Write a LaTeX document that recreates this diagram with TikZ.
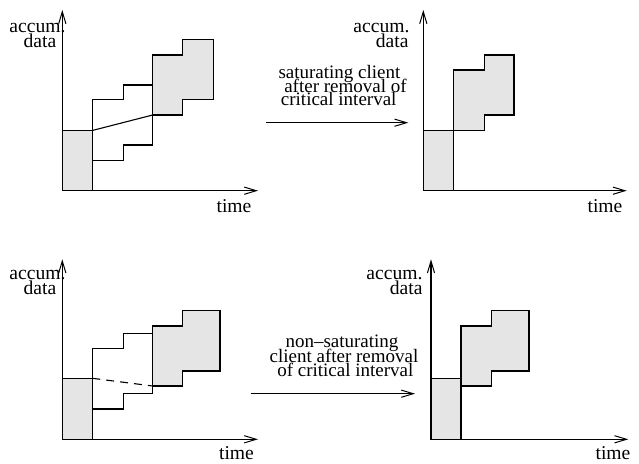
\documentclass[tikz,border=0pt]{standalone}
\usepackage{fontspec}
\setmainfont{Liberation Serif}
\usetikzlibrary{arrows.meta}
\begin{document}
\begin{tikzpicture}[x=0.5pt,y=-0.5pt,line width=0.55pt,
  axisarrow/.style={-{Straight Barb[length=6pt,width=3.6pt,line width=0.5pt]}},
  shaded/.style={draw,fill=gray!20},
  lbl/.style={inner sep=0pt,anchor=base,text height=0.55em,text depth=0pt,
    font=\fontsize{9.8}{9.8}\selectfont},
  note/.style={inner sep=0pt,anchor=base,text height=0.55em,text depth=0pt,
    font=\fontsize{9.5}{9.5}\selectfont}]
\useasboundingbox (0,0) rectangle (639,464);

% ---------- upper left: original schedule ----------
\coordinate (o1) at (62.3,190.7);
\coordinate (y1) at (62.3,10);
\coordinate (x1) at (258,190.7);
\filldraw[shaded] (62.3,130.5) rectangle (92.3,190.7);
\filldraw[shaded] (152.7,115) -- (152.7,55) -- (182.7,55) -- (182.7,39.3)
  -- (213.3,39.3) -- (213.3,99.3) -- (182.7,99.3) -- (182.7,115) -- cycle;
\draw (92.3,190.7) -- (92.3,99.3) -- (123.3,99.3) -- (123.3,85) -- (152.7,85);
\draw (92.3,160.3) -- (123.3,160.3) -- (123.3,145) -- (152.7,145) -- (152.7,115);
\draw (92.3,130.5) -- (152.7,115);
\draw[axisarrow] (o1) -- (y1);
\draw[axisarrow] (o1) -- (x1);
\node[lbl] (a1) at (37.5,32.8) {accum.};
\node[lbl] (d1) at (40,47.2) {data};
\node[lbl] (t1) at (234,213) {time};

% ---------- upper right: saturating client ----------
\coordinate (o2) at (423.3,190.7);
\coordinate (y2) at (423.3,10);
\coordinate (x2) at (626.7,190.7);
\filldraw[shaded] (423.3,130.5) rectangle (453.3,190.7);
\filldraw[shaded] (453.3,130.5) -- (453.3,70) -- (484.3,70) -- (484.3,55)
  -- (514,55) -- (514,115) -- (484.3,115) -- (484.3,130.5) -- cycle;
\draw[axisarrow] (o2) -- (y2);
\draw[axisarrow] (o2) -- (x2);
\node[lbl,anchor=base east] (a2) at (410,32.8) {accum.};
\node[lbl,anchor=base east] (d2) at (409,47.2) {data};
\node[lbl] (t2) at (605,213) {time};

% transition arrow (upper row)
\coordinate (s1) at (266,122.7);
\coordinate (e1) at (408.3,122.7);
\draw[axisarrow] (s1) -- (e1);
\node[note] (n1a) at (339.5,79) {saturating client};
\node[note] (n1b) at (345.5,92.5) {after removal of};
\node[note] (n1c) at (338.7,106) {critical interval};

% ---------- lower left: original schedule ----------
\coordinate (o3) at (62.3,439.3);
\coordinate (y3) at (62.3,259.3);
\coordinate (x3) at (258,439.3);
\filldraw[shaded] (62.3,378.3) rectangle (92.3,439.3);
\filldraw[shaded] (152.7,386) -- (152.7,326) -- (182.7,326) -- (182.7,310.7)
  -- (220,310.7) -- (220,371) -- (182.7,371) -- (182.7,386) -- cycle;
\draw (92.3,439.3) -- (92.3,348.3) -- (123.3,348.3) -- (123.3,333.3) -- (152.7,333.3);
\draw (92.3,409) -- (123.3,409) -- (123.3,393.7) -- (152.7,393.7) -- (152.7,386);
\draw[dash pattern=on 4pt off 3pt] (92.3,378.3) -- (152.7,386);
\draw[axisarrow] (o3) -- (y3);
\draw[axisarrow] (o3) -- (x3);
\node[lbl] (a3) at (37.5,280) {accum.};
\node[lbl] (d3) at (40,295) {data};
\node[lbl] (t3) at (236.5,460) {time};

% ---------- lower right: non-saturating client ----------
\coordinate (o4) at (431,439.3);
\coordinate (y4) at (431,259.3);
\coordinate (x4) at (628.3,439.3);
\filldraw[shaded] (431,378.7) rectangle (461,439.3);
\filldraw[shaded] (461,386) -- (461,326) -- (491.7,326) -- (491.7,310.7)
  -- (529,310.7) -- (529,371) -- (491.7,371) -- (491.7,386) -- cycle;
\draw[axisarrow] (o4) -- (y4);
\draw[axisarrow] (o4) -- (x4);
\node[lbl,anchor=base east] (a4) at (423,280) {accum.};
\node[lbl,anchor=base east] (d4) at (423,295) {data};
\node[lbl] (t4) at (613,460) {time};

% transition arrow (lower row)
\coordinate (s2) at (250.7,393.7);
\coordinate (e2) at (415,393.7);
\draw[axisarrow] (s2) -- (e2);
\node[note] (n2a) at (342,347.3) {non\textendash saturating};
\node[note] (n2b) at (344,362.3) {client after removal};
\node[note] (n2c) at (345.3,376.7) {of critical interval};
\end{tikzpicture}
\end{document}
